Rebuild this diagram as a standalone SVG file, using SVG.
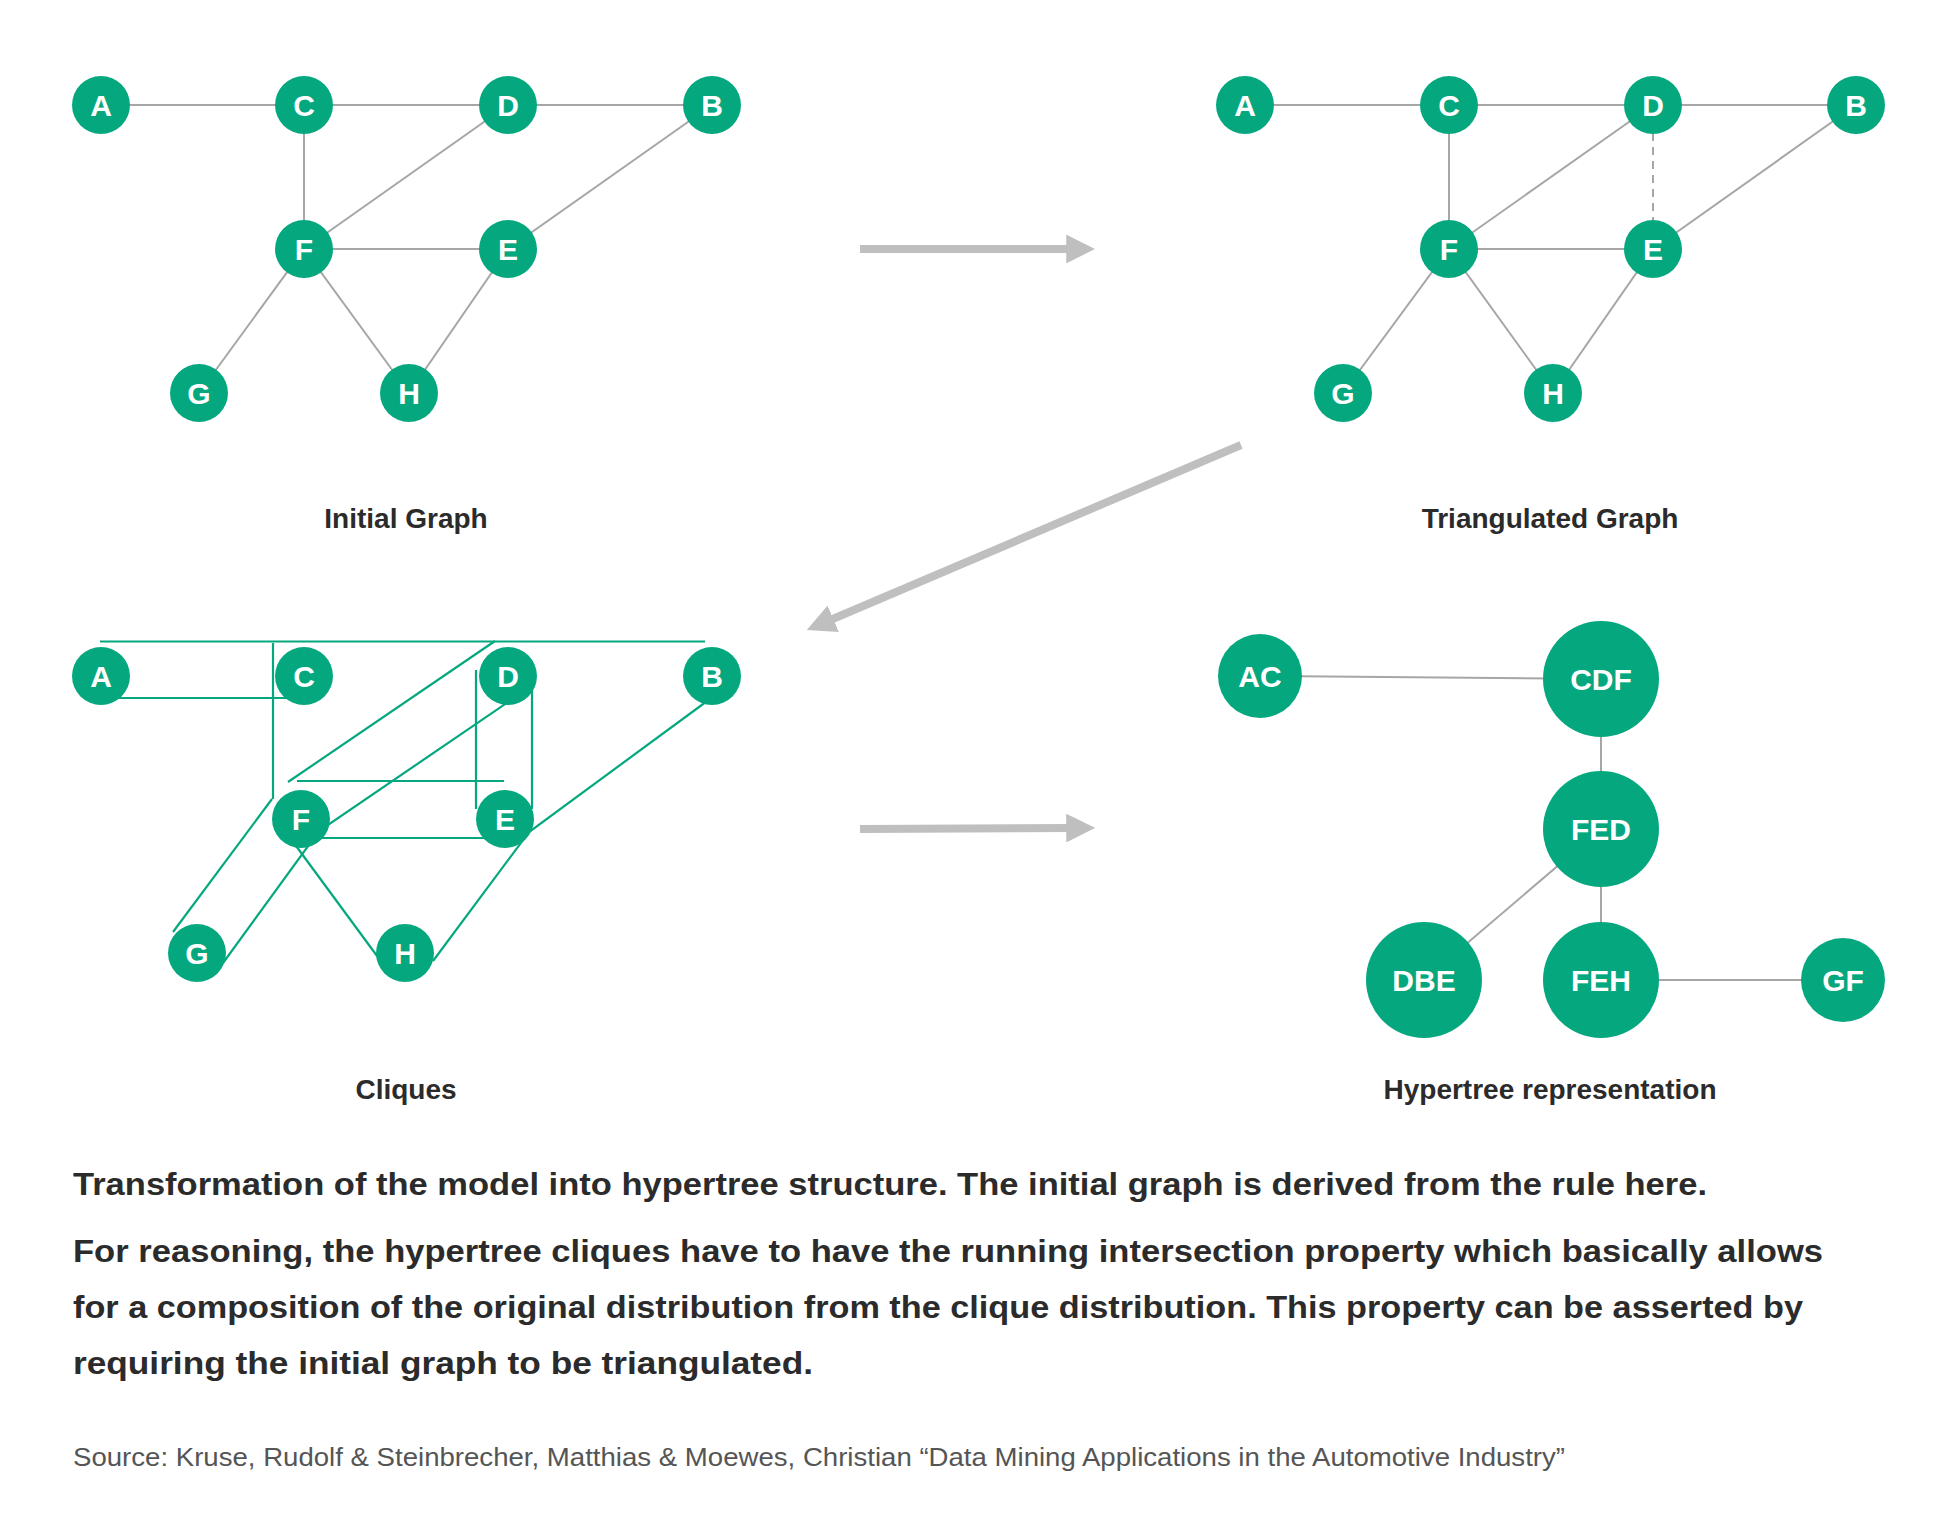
<svg xmlns="http://www.w3.org/2000/svg" width="1940" height="1530" viewBox="0 0 1940 1530">
<style>
.n circle{fill:#05a87e}
.n text{fill:#fff;font-family:"Liberation Sans",Arial,sans-serif;font-weight:bold;font-size:30px;text-anchor:middle;dominant-baseline:central}
.e line,.e path{stroke:#a6a6a6;stroke-width:2;fill:none}
.cl path{stroke:#05a87e;stroke-width:2.2;fill:none}
.lbl{font-family:"Liberation Sans",Arial,sans-serif;font-weight:bold;font-size:28px;fill:#2b2b2b;text-anchor:middle}
.para{font-family:"Liberation Sans",Arial,sans-serif;font-weight:bold;font-size:32px;fill:#2b2b2b}
.src{font-family:"Liberation Sans",Arial,sans-serif;font-size:25px;fill:#555}
.arr{stroke:#bfbfbf;stroke-width:8;fill:none}
</style>
<defs>
<marker id="ah" viewBox="0 0 10 10" refX="2" refY="5" markerWidth="3.6" markerHeight="3.6" orient="auto" markerUnits="strokeWidth">
<path d="M0,0 L10,5 L0,10 Z" fill="#bfbfbf"/></marker>
</defs>
<g id="connectors">
<g class="e">
<line x1="101" y1="105" x2="712" y2="105"/>
<line x1="304" y1="105" x2="304" y2="249"/>
<line x1="508" y1="105" x2="304" y2="249"/>
<line x1="712" y1="105" x2="508" y2="249"/>
<line x1="304" y1="249" x2="508" y2="249"/>
<line x1="304" y1="249" x2="199" y2="393"/>
<line x1="304" y1="249" x2="409" y2="393"/>
<line x1="508" y1="249" x2="409" y2="393"/>
<line x1="1245" y1="105" x2="1856" y2="105"/>
<line x1="1449" y1="105" x2="1449" y2="249"/>
<line x1="1653" y1="105" x2="1449" y2="249"/>
<line x1="1653" y1="105" x2="1653" y2="249" stroke-dasharray="8,6"/>
<line x1="1856" y1="105" x2="1653" y2="249"/>
<line x1="1449" y1="249" x2="1653" y2="249"/>
<line x1="1449" y1="249" x2="1343" y2="393"/>
<line x1="1449" y1="249" x2="1553" y2="393"/>
<line x1="1653" y1="249" x2="1553" y2="393"/>
<line x1="1260" y1="676" x2="1601" y2="679"/>
<line x1="1601" y1="679" x2="1601" y2="829"/>
<line x1="1601" y1="829" x2="1424" y2="980"/>
<line x1="1601" y1="829" x2="1601" y2="980"/>
<line x1="1601" y1="980" x2="1843" y2="980"/>
</g>
<g class="cl">
<path d="M100,641.5 H705"/>
<path d="M100,698 H303"/>
<path d="M273,643 V799"/>
<path d="M495,641 L288,782"/>
<path d="M297,781 H504 M297,838 H504"/>
<path d="M476,670 V809 M532,670 V809"/>
<path d="M517,696 L319,831 L223,963"/>
<path d="M272,799 L173,932"/>
<path d="M714,696 L529,832 L433,961"/>
<path d="M288,835 L380,960"/>
</g>
<path class="arr" d="M860,249 H1072" marker-end="url(#ah)"/>
<path class="arr" d="M1241,445 L828,621" marker-end="url(#ah)"/>
<path class="arr" d="M860,829 L1072,828" marker-end="url(#ah)"/>
</g>
<g id="g1-A" class="n"><circle cx="101" cy="105" r="29"/><text x="101" y="105">A</text></g>
<g id="g1-C" class="n"><circle cx="304" cy="105" r="29"/><text x="304" y="105">C</text></g>
<g id="g1-D" class="n"><circle cx="508" cy="105" r="29"/><text x="508" y="105">D</text></g>
<g id="g1-B" class="n"><circle cx="712" cy="105" r="29"/><text x="712" y="105">B</text></g>
<g id="g1-F" class="n"><circle cx="304" cy="249" r="29"/><text x="304" y="249">F</text></g>
<g id="g1-E" class="n"><circle cx="508" cy="249" r="29"/><text x="508" y="249">E</text></g>
<g id="g1-G" class="n"><circle cx="199" cy="393" r="29"/><text x="199" y="393">G</text></g>
<g id="g1-H" class="n"><circle cx="409" cy="393" r="29"/><text x="409" y="393">H</text></g>
<g id="g2-A" class="n"><circle cx="1245" cy="105" r="29"/><text x="1245" y="105">A</text></g>
<g id="g2-C" class="n"><circle cx="1449" cy="105" r="29"/><text x="1449" y="105">C</text></g>
<g id="g2-D" class="n"><circle cx="1653" cy="105" r="29"/><text x="1653" y="105">D</text></g>
<g id="g2-B" class="n"><circle cx="1856" cy="105" r="29"/><text x="1856" y="105">B</text></g>
<g id="g2-F" class="n"><circle cx="1449" cy="249" r="29"/><text x="1449" y="249">F</text></g>
<g id="g2-E" class="n"><circle cx="1653" cy="249" r="29"/><text x="1653" y="249">E</text></g>
<g id="g2-G" class="n"><circle cx="1343" cy="393" r="29"/><text x="1343" y="393">G</text></g>
<g id="g2-H" class="n"><circle cx="1553" cy="393" r="29"/><text x="1553" y="393">H</text></g>
<g id="g3-A" class="n"><circle cx="101" cy="676" r="29"/><text x="101" y="676">A</text></g>
<g id="g3-C" class="n"><circle cx="304" cy="676" r="29"/><text x="304" y="676">C</text></g>
<g id="g3-D" class="n"><circle cx="508" cy="676" r="29"/><text x="508" y="676">D</text></g>
<g id="g3-B" class="n"><circle cx="712" cy="676" r="29"/><text x="712" y="676">B</text></g>
<g id="g3-F" class="n"><circle cx="301" cy="819" r="29"/><text x="301" y="819">F</text></g>
<g id="g3-E" class="n"><circle cx="505" cy="819" r="29"/><text x="505" y="819">E</text></g>
<g id="g3-G" class="n"><circle cx="197" cy="953" r="29"/><text x="197" y="953">G</text></g>
<g id="g3-H" class="n"><circle cx="405" cy="953" r="29"/><text x="405" y="953">H</text></g>
<g id="h-AC" class="n"><circle cx="1260" cy="676" r="42"/><text x="1260" y="676">AC</text></g>
<g id="h-CDF" class="n"><circle cx="1601" cy="679" r="58"/><text x="1601" y="679">CDF</text></g>
<g id="h-FED" class="n"><circle cx="1601" cy="829" r="58"/><text x="1601" y="829">FED</text></g>
<g id="h-DBE" class="n"><circle cx="1424" cy="980" r="58"/><text x="1424" y="980">DBE</text></g>
<g id="h-FEH" class="n"><circle cx="1601" cy="980" r="58"/><text x="1601" y="980">FEH</text></g>
<g id="h-GF" class="n"><circle cx="1843" cy="980" r="42"/><text x="1843" y="980">GF</text></g>
<text class="lbl" x="406" y="528">Initial Graph</text>
<text class="lbl" x="1550" y="528">Triangulated Graph</text>
<text class="lbl" x="406" y="1099">Cliques</text>
<text class="lbl" x="1550" y="1099">Hypertree representation</text>
<text class="para" x="73" y="1195" textLength="1634" lengthAdjust="spacingAndGlyphs">Transformation of the model into hypertree structure. The initial graph is derived from the rule here.</text>
<text class="para" x="73" y="1262" textLength="1750" lengthAdjust="spacingAndGlyphs">For reasoning, the hypertree cliques have to have the running intersection property which basically allows</text>
<text class="para" x="73" y="1318" textLength="1730" lengthAdjust="spacingAndGlyphs">for a composition of the original distribution from the clique distribution. This property can be asserted by</text>
<text class="para" x="73" y="1374" textLength="740" lengthAdjust="spacingAndGlyphs">requiring the initial graph to be triangulated.</text>
<text class="src" x="73" y="1466" textLength="1492" lengthAdjust="spacingAndGlyphs">Source: Kruse, Rudolf &amp; Steinbrecher, Matthias &amp; Moewes, Christian “Data Mining Applications in the Automotive Industry”</text>
</svg>
